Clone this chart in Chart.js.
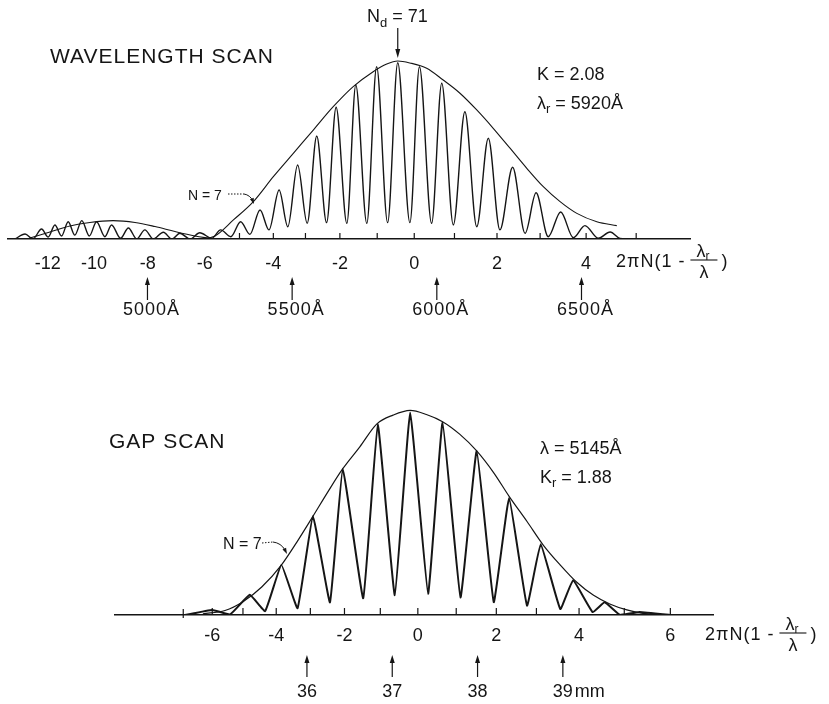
<!DOCTYPE html>
<html>
<head>
<meta charset="utf-8">
<script src="https://cdn.jsdelivr.net/npm/chart.js@4/dist/chart.umd.min.js"></script>
<style>
    html, body { margin: 0; padding: 0; background: #fff; }
    #wrap { position: relative; width: 829px; height: 704px; }
    canvas { position: absolute; left: 0; }
</style>
</head>
<body>
<div id="wrap">
    <canvas id="wavelengthScan" width="829" height="352" style="top:0"></canvas>
    <canvas id="gapScan" width="829" height="352" style="top:352px"></canvas>
</div>
<script>
const ink = '#151515'
const font = '"Liberation Sans", Arial, sans-serif'

// Wavelength scan: x in Å, intensity in arbitrary units (envelope top = 100)
const waveFringeX = [4542, 4577, 4604, 4634, 4657, 4680, 4703, 4726, 4749, 4773, 4799, 4824, 4853, 4876, 4907, 4934, 4963, 4991, 5020, 5055, 5084, 5112, 5147, 5181, 5222, 5253, 5288, 5322, 5354, 5389, 5420, 5455, 5485, 5519, 5552, 5585, 5619, 5652, 5689, 5720, 5758, 5792, 5830, 5865, 5907, 5940, 5982, 6017, 6057, 6097, 6138, 6178, 6218, 6262, 6305, 6343, 6385, 6428, 6472, 6512, 6558, 6599, 6633, 6660]
const waveFringeY = [0, 2.8, 0, 5.6, 1.1, 7.9, 1.7, 9.7, 2.2, 10.3, 1.7, 9.7, 1.3, 7.9, 0.4, 6.2, 0, 5.1, 0, 3.8, 0, 3.2, 0, 3.5, 0.4, 5.1, 1.3, 9.7, 2.6, 16.3, 5.1, 27.5, 6.9, 41.6, 8.8, 57.9, 9.2, 74.0, 8.8, 86.5, 8.8, 96.8, 9.2, 99.0, 9.2, 96.8, 8.8, 87.5, 7.9, 71.5, 6.9, 56.6, 5.1, 40.3, 3.2, 26.0, 1.3, 15.2, 0.7, 7.5, 0.4, 3.9, 0.3, 0]
const waveEnvX = [5181, 5233, 5297, 5366, 5435, 5504, 5573, 5642, 5711, 5780, 5827, 5865, 5907, 5965, 6022, 6080, 6138, 6195, 6253, 6311, 6368, 6426, 6484, 6553, 6622]
const waveEnvY = [0, 1.7, 10.7, 21.0, 35.0, 48.1, 61.2, 74.3, 85.6, 94.0, 98.3, 100, 98.9, 95.9, 89.3, 81.9, 72.5, 62.2, 51.0, 39.7, 29.4, 21.0, 14.4, 9.7, 7.5]
const waveSideEnvX = [4594, 4663, 4732, 4801, 4881, 4957, 5026, 5095, 5164, 5216]
const waveSideEnvY = [0.6, 3.9, 7.3, 9.3, 10.3, 9.3, 7.0, 4.2, 1.7, 0.3]
// 2πN(1 - λr/λ) ticks and where they sit in Å
const waveTickU = [-12, -10, -8, -6, -5, -4, -3, -2, -1, 0, 1, 2, 3, 4, 5]
const waveTickX = [4655, 4815, 5001, 5198, 5318, 5435, 5546, 5665, 5794, 5922, 6061, 6208, 6357, 6516, 6689]
const waveMarkers = [5000, 5500, 6000, 6500]
const ndPeak = 5865

// Gap scan: x in mm of gap
const gapFringeX = [34.57, 34.89, 35.10, 35.33, 35.51, 35.70, 35.89, 36.07, 36.27, 36.42, 36.66, 36.83, 37.03, 37.21, 37.42, 37.59, 37.80, 37.99, 38.19, 38.37, 38.58, 38.74, 38.97, 39.12, 39.35, 39.49, 39.67, 39.90, 40.26]
const gapFringeY = [0, 2.5, 0.3, 9.9, 1.9, 24.5, 3.3, 48.3, 6.2, 71.4, 8.2, 93.4, 9.7, 99.0, 10.4, 94.1, 8.6, 80.2, 6.3, 57.2, 4.6, 34.6, 2.9, 17.0, 1.4, 6.2, 0, 1.5, 0]
const gapEnvX = [34.78, 35.04, 35.25, 35.47, 35.70, 35.88, 36.07, 36.24, 36.42, 36.62, 36.82, 37.01, 37.21, 37.40, 37.59, 37.79, 37.99, 38.19, 38.37, 38.58, 38.77, 38.97, 39.16, 39.36, 39.55, 39.75, 39.94, 40.18]
const gapEnvY = [0.6, 2.2, 6.5, 13.7, 24.4, 35.5, 48.2, 59.8, 71.5, 82.2, 93.4, 97.7, 100, 98.0, 94.5, 88.4, 80.2, 69.5, 58.0, 45.7, 34.2, 24.4, 16.1, 9.6, 5.4, 2.5, 0.8, 0.1]
const gapTickU = [-7, -6, -5, -4, -3, -2, -1, 0, 1, 2, 3, 4, 5, 6]
const gapTickX = [34.55, 34.89, 35.25, 35.64, 36.04, 36.44, 36.86, 37.30, 37.75, 38.22, 38.69, 39.19, 39.72, 40.26]
const gapMarkers = [36, 37, 38, 39]

function toPoints(xs, ys) {
    return xs.map((x, i) => ({ x: x, y: ys[i] }))
}

function line(ctx, x1, y1, x2, y2) {
    ctx.beginPath()
    ctx.moveTo(x1, y1)
    ctx.lineTo(x2, y2)
    ctx.stroke()
}

// Filled arrow head with its tip at (x, y), pointing along angle
function arrowHead(ctx, x, y, angle, len, half) {
    ctx.beginPath()
    ctx.moveTo(x, y)
    ctx.lineTo(x - len * Math.cos(angle) + half * Math.sin(angle), y - len * Math.sin(angle) - half * Math.cos(angle))
    ctx.lineTo(x - len * Math.cos(angle) - half * Math.sin(angle), y - len * Math.sin(angle) + half * Math.cos(angle))
    ctx.closePath()
    ctx.fill()
}

// Draws text pieces one after the other: [text, size, dy]
function runs(ctx, x, y, parts, spacing) {
    let cx = x
    parts.forEach(([t, size, dy]) => {
        ctx.font = size + 'px ' + font
        ctx.letterSpacing = (spacing || 0) + 'px'
        ctx.fillText(t, cx, y + dy)
        cx += ctx.measureText(t).width
    })
    ctx.letterSpacing = '0px'
    return cx
}

// 2πN(1 - λr/λ) with a real fraction
function axisTitle(ctx, x, y, size) {
    ctx.textAlign = 'left'
    const end = runs(ctx, x, y, [['2πN(1 -', size, 0]], 1)
    const barX = end + 5
    const barW = 27
    ctx.lineWidth = 1.1
    line(ctx, barX, y - 7, barX + barW, y - 7)
    runs(ctx, barX + 6, y - 10, [['λ', size, 0], ['r', 12, 3]])
    runs(ctx, barX + 9, y + 11, [['λ', size, 0]])
    runs(ctx, barX + barW + 4, y, [[')', size, 0]])
}

function scaleOptions(min, max, tickX, tickU, ymax, pad) {
    return {
        x: {
            type: 'linear',
            min: min,
            max: max,
            afterBuildTicks: (axis) => {
                axis.ticks = tickX.map((v) => ({ value: v }))
            },
            grid: { display: false, drawTicks: false },
            border: { display: true, color: ink, width: 1.6 },
            ticks: {
                autoSkip: false,
                maxRotation: 0,
                padding: pad,
                color: ink,
                font: { family: font, size: 18 },
                callback: (value, index) => (tickU[index] % 2 === 0 ? String(tickU[index]) : '')
            }
        },
        y: { display: false, min: 0, max: ymax }
    }
}

const waveDecor = {
    id: 'waveDecor',
    afterDraw(chart) {
        const ctx = chart.ctx
        const xs = chart.scales.x
        const base = chart.scales.y.getPixelForValue(0)
        ctx.save()
        ctx.strokeStyle = ink
        ctx.fillStyle = ink
        ctx.textBaseline = 'alphabetic'
        ctx.lineWidth = 1.2

        // short tick marks above the axis
        waveTickU.forEach((u, i) => {
            if (u < -5) return
            const px = xs.getPixelForValue(waveTickX[i])
            line(ctx, px, base, px, base - 6)
        })

        // wavelength markers
        waveMarkers.forEach((w) => {
            const px = xs.getPixelForValue(w)
            line(ctx, px, base + 61, px, base + 44)
            arrowHead(ctx, px, base + 38, -Math.PI / 2, 8, 2.5)
            ctx.textAlign = 'center'
            ctx.font = '18px ' + font
            ctx.letterSpacing = '1px'
            ctx.fillText(w + 'Å', px + 4, base + 76)
            ctx.letterSpacing = '0px'
        })

        ctx.textAlign = 'left'
        runs(ctx, 50, 63, [['WAVELENGTH SCAN', 21, 0]], 1)

        // Nd = 71 pointing at the central fringe
        const pk = xs.getPixelForValue(ndPeak)
        runs(ctx, 367, 22, [['N', 18, 0], ['d', 13, 5], [' = 71', 18, 0]])
        line(ctx, pk, 28, pk, 50)
        arrowHead(ctx, pk, 58, Math.PI / 2, 9, 2.5)

        runs(ctx, 537, 80, [['K = 2.08', 18, 0]])
        runs(ctx, 537, 109, [['λ', 18, 0], ['r', 13, 4], [' = 5920Å', 18, 0]])

        // N = 7 label with dotted leader
        runs(ctx, 188, 200, [['N = 7', 14, 0]])
        ctx.lineWidth = 1
        ctx.setLineDash([1.5, 1.5])
        line(ctx, 228, 194, 244, 194)
        ctx.setLineDash([])
        ctx.beginPath()
        ctx.moveTo(244, 194)
        ctx.quadraticCurveTo(250, 195, 253, 201)
        ctx.stroke()
        arrowHead(ctx, 254, 204, 1.2, 6, 2)

        axisTitle(ctx, 616, base + 28, 18)
        ctx.restore()
    }
}

const gapDecor = {
    id: 'gapDecor',
    afterDraw(chart) {
        const ctx = chart.ctx
        const xs = chart.scales.x
        const base = chart.scales.y.getPixelForValue(0)
        ctx.save()
        ctx.strokeStyle = ink
        ctx.fillStyle = ink
        ctx.textBaseline = 'alphabetic'
        ctx.lineWidth = 1.2

        gapTickU.forEach((u, i) => {
            const px = xs.getPixelForValue(gapTickX[i])
            if (u === -7) {
                line(ctx, px, base - 6, px, base + 3)
            } else {
                line(ctx, px, base, px, base - 7)
            }
        })

        // gap markers in mm
        gapMarkers.forEach((g, i) => {
            const px = xs.getPixelForValue(g)
            line(ctx, px, base + 62, px, base + 46)
            arrowHead(ctx, px, base + 40, -Math.PI / 2, 8, 2.5)
            ctx.font = '18px ' + font
            ctx.textAlign = 'center'
            ctx.fillText(String(g), px, base + 82)
            if (i === gapMarkers.length - 1) {
                ctx.textAlign = 'left'
                ctx.fillText('mm', px + 12, base + 82)
            }
        })

        ctx.textAlign = 'left'
        runs(ctx, 109, 96, [['GAP SCAN', 21, 0]], 1)
        runs(ctx, 540, 102, [['λ = 5145Å', 18, 0]])
        runs(ctx, 540, 131, [['K', 18, 0], ['r', 13, 4], [' = 1.88', 18, 0]])

        runs(ctx, 223, 197, [['N = 7', 16, 0]])
        ctx.lineWidth = 1
        ctx.setLineDash([1.5, 1.5])
        line(ctx, 262, 191, 273, 190)
        ctx.setLineDash([])
        ctx.beginPath()
        ctx.moveTo(273, 190)
        ctx.quadraticCurveTo(281, 191, 285, 198)
        ctx.stroke()
        arrowHead(ctx, 287, 202, 1.1, 6, 2)

        axisTitle(ctx, 705, base + 25, 18)
        ctx.restore()
    }
}

function createWavelengthChart() {
    new Chart(document.getElementById('wavelengthScan'), {
        type: 'line',
        data: {
            datasets: [
                {
                    data: toPoints(waveFringeX, waveFringeY),
                    borderColor: ink,
                    borderWidth: 1.4,
                    pointRadius: 0,
                    cubicInterpolationMode: 'monotone'
                },
                {
                    data: toPoints(waveEnvX, waveEnvY),
                    borderColor: ink,
                    borderWidth: 1.1,
                    pointRadius: 0,
                    cubicInterpolationMode: 'monotone'
                },
                {
                    data: toPoints(waveSideEnvX, waveSideEnvY),
                    borderColor: ink,
                    borderWidth: 1.1,
                    pointRadius: 0,
                    cubicInterpolationMode: 'monotone'
                }
            ]
        },
        options: {
            responsive: false,
            animation: false,
            events: [],
            layout: { padding: { top: 7.6, left: 8, right: 139, bottom: 63.4 } },
            plugins: { legend: { display: false }, tooltip: { enabled: false } },
            scales: scaleOptions(4518, 6875, waveTickX, waveTickU, 130, 14)
        },
        plugins: [waveDecor]
    })
}

function createGapChart() {
    new Chart(document.getElementById('gapScan'), {
        type: 'line',
        data: {
            datasets: [
                {
                    data: toPoints(gapFringeX, gapFringeY),
                    borderColor: ink,
                    borderWidth: 2,
                    pointRadius: 0,
                    tension: 0.1
                },
                {
                    data: toPoints(gapEnvX, gapEnvY),
                    borderColor: ink,
                    borderWidth: 1.2,
                    pointRadius: 0,
                    cubicInterpolationMode: 'monotone'
                }
            ]
        },
        options: {
            responsive: false,
            animation: false,
            events: [],
            layout: { padding: { top: 7.25, left: 115, right: 116, bottom: 47.4 } },
            plugins: { legend: { display: false }, tooltip: { enabled: false } },
            scales: scaleOptions(33.75, 40.76, gapTickX, gapTickU, 125, 10)
        },
        plugins: [gapDecor]
    })
}

createWavelengthChart()
createGapChart()
</script>
</body>
</html>
